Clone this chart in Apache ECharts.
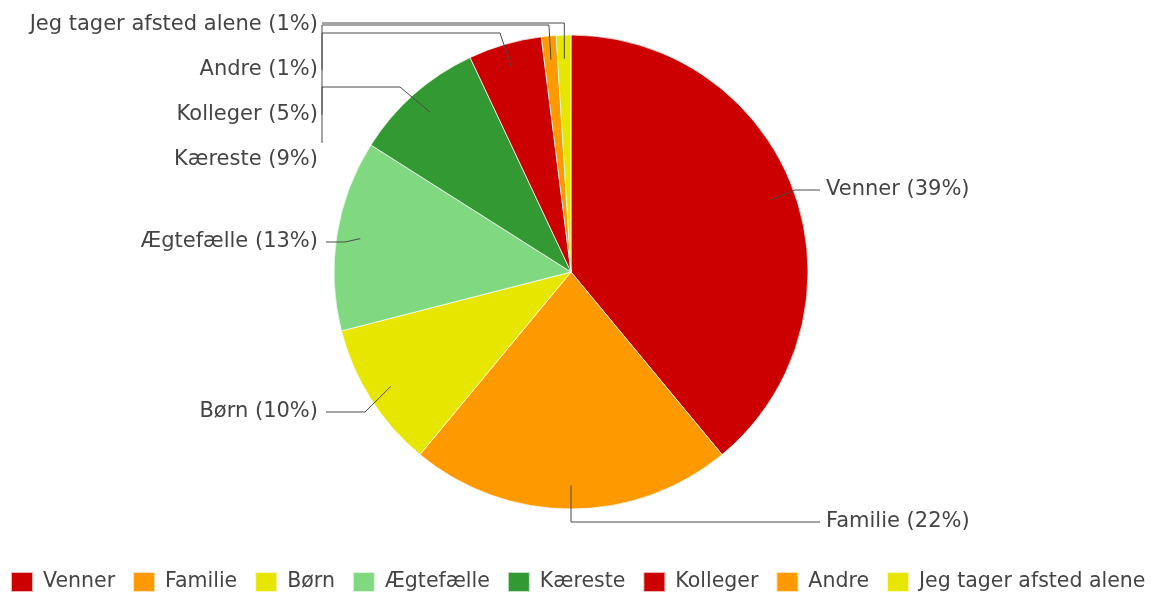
<!DOCTYPE html>
<html>
<head>
<meta charset="utf-8">
<title>Hvem tager du afsted med?</title>
<script src="https://cdn.jsdelivr.net/npm/echarts@6/dist/echarts.min.js"></script>
<style>
  html, body { margin: 0; padding: 0; background: #ffffff; }
  #chart { width: 1155px; height: 597px; }
</style>
</head>
<body>
<div id="chart"></div>
<script>
// Companions and their share of answers (percent)
const categories = ['Venner', 'Familie', 'Børn', 'Ægtefælle', 'Kæreste', 'Kolleger', 'Andre', 'Jeg tager afsted alene'];
const shares = [39, 22, 10, 13, 9, 5, 1, 1];
const colors = ['#cc0000', '#ff9900', '#e6e600', '#80d980', '#339933', '#cc0000', '#ff9900', '#e6e600'];

const CX = 571, CY = 272, R = 237;
const FONT = 'DejaVu Sans, Verdana, sans-serif';
const FONT_SIZE = 21;
const TEXT_COLOR = '#444';
const LINE_COLOR = '#4a4a4a';

// Mid angle of each slice (clockwise from 12 o'clock), from the data
const total = shares.reduce((a, b) => a + b, 0);
const midAngles = [];
let acc = 0;
shares.forEach(v => { midAngles.push((acc + v / 2) / total * Math.PI * 2); acc += v; });
function inner(i) {
  const r = R * 0.9;
  return [CX + r * Math.sin(midAngles[i]), CY - r * Math.cos(midAngles[i])];
}

// Label anchors and leader-line routing
const rightX = 826, leftX = 318, railX = 322;
const labelPlan = [
  { side: 'right', y: 190, route: p => [p, [795, 190], [rightX - 6, 190]] },
  { side: 'right', y: 522, route: p => [p, [p[0], 522], [rightX - 6, 522]] },
  { side: 'left',  y: 412, route: p => [p, [365, 412], [leftX + 8, 412]] },
  { side: 'left',  y: 242, route: p => [p, [345, 242], [leftX + 8, 242]] },
  { side: 'left',  y: 160, route: p => [p, [400, 87], [railX, 87], [railX, 143]] },
  { side: 'left',  y: 115, route: p => [p, [500, 33], [railX, 33], [railX, 115]] },
  { side: 'left',  y: 70,  route: p => [p, [p[0] - 2, 25], [railX, 25], [railX, 70]] },
  { side: 'left',  y: 25,  route: p => [p, [p[0], 23], [railX, 23]] }
];

// Leader lines sit above the slices
const leaderLines = labelPlan.map((plan, i) => ({
  type: 'polyline',
  z: 100,
  silent: true,
  shape: { points: plan.route(inner(i)) },
  style: { stroke: LINE_COLOR, lineWidth: 1, fill: null }
}));

const chart = echarts.init(document.getElementById('chart'), null, { renderer: 'canvas' });
chart.setOption({
  animation: false,
  color: colors,
  graphic: { elements: leaderLines },
  legend: {
    top: 571,
    left: 10,
    width: 1145,
    padding: 0,
    icon: 'rect',
    itemWidth: 22,
    itemHeight: 20,
    itemGap: 17,
    textStyle: { fontFamily: FONT, fontSize: 20.5, color: TEXT_COLOR, padding: [0, 0, 0, 5] },
    data: categories
  },
  series: [{
    type: 'pie',
    center: [CX, CY],
    radius: R,
    startAngle: 90,
    clockwise: true,
    avoidLabelOverlap: false,
    itemStyle: { borderColor: 'rgba(255,255,255,0.7)', borderWidth: 1 },
    label: {
      show: true,
      formatter: '{b} ({d}%)',
      fontFamily: FONT,
      fontSize: FONT_SIZE,
      color: TEXT_COLOR
    },
    labelLine: { show: false },
    labelLayout: function (params) {
      const plan = labelPlan[params.dataIndex];
      return {
        x: plan.side === 'right' ? rightX : leftX,
        y: plan.y,
        align: plan.side === 'right' ? 'left' : 'right',
        verticalAlign: 'middle'
      };
    },
    emphasis: { disabled: true },
    data: categories.map((name, i) => ({ name: name, value: shares[i] }))
  }]
});
</script>
</body>
</html>
